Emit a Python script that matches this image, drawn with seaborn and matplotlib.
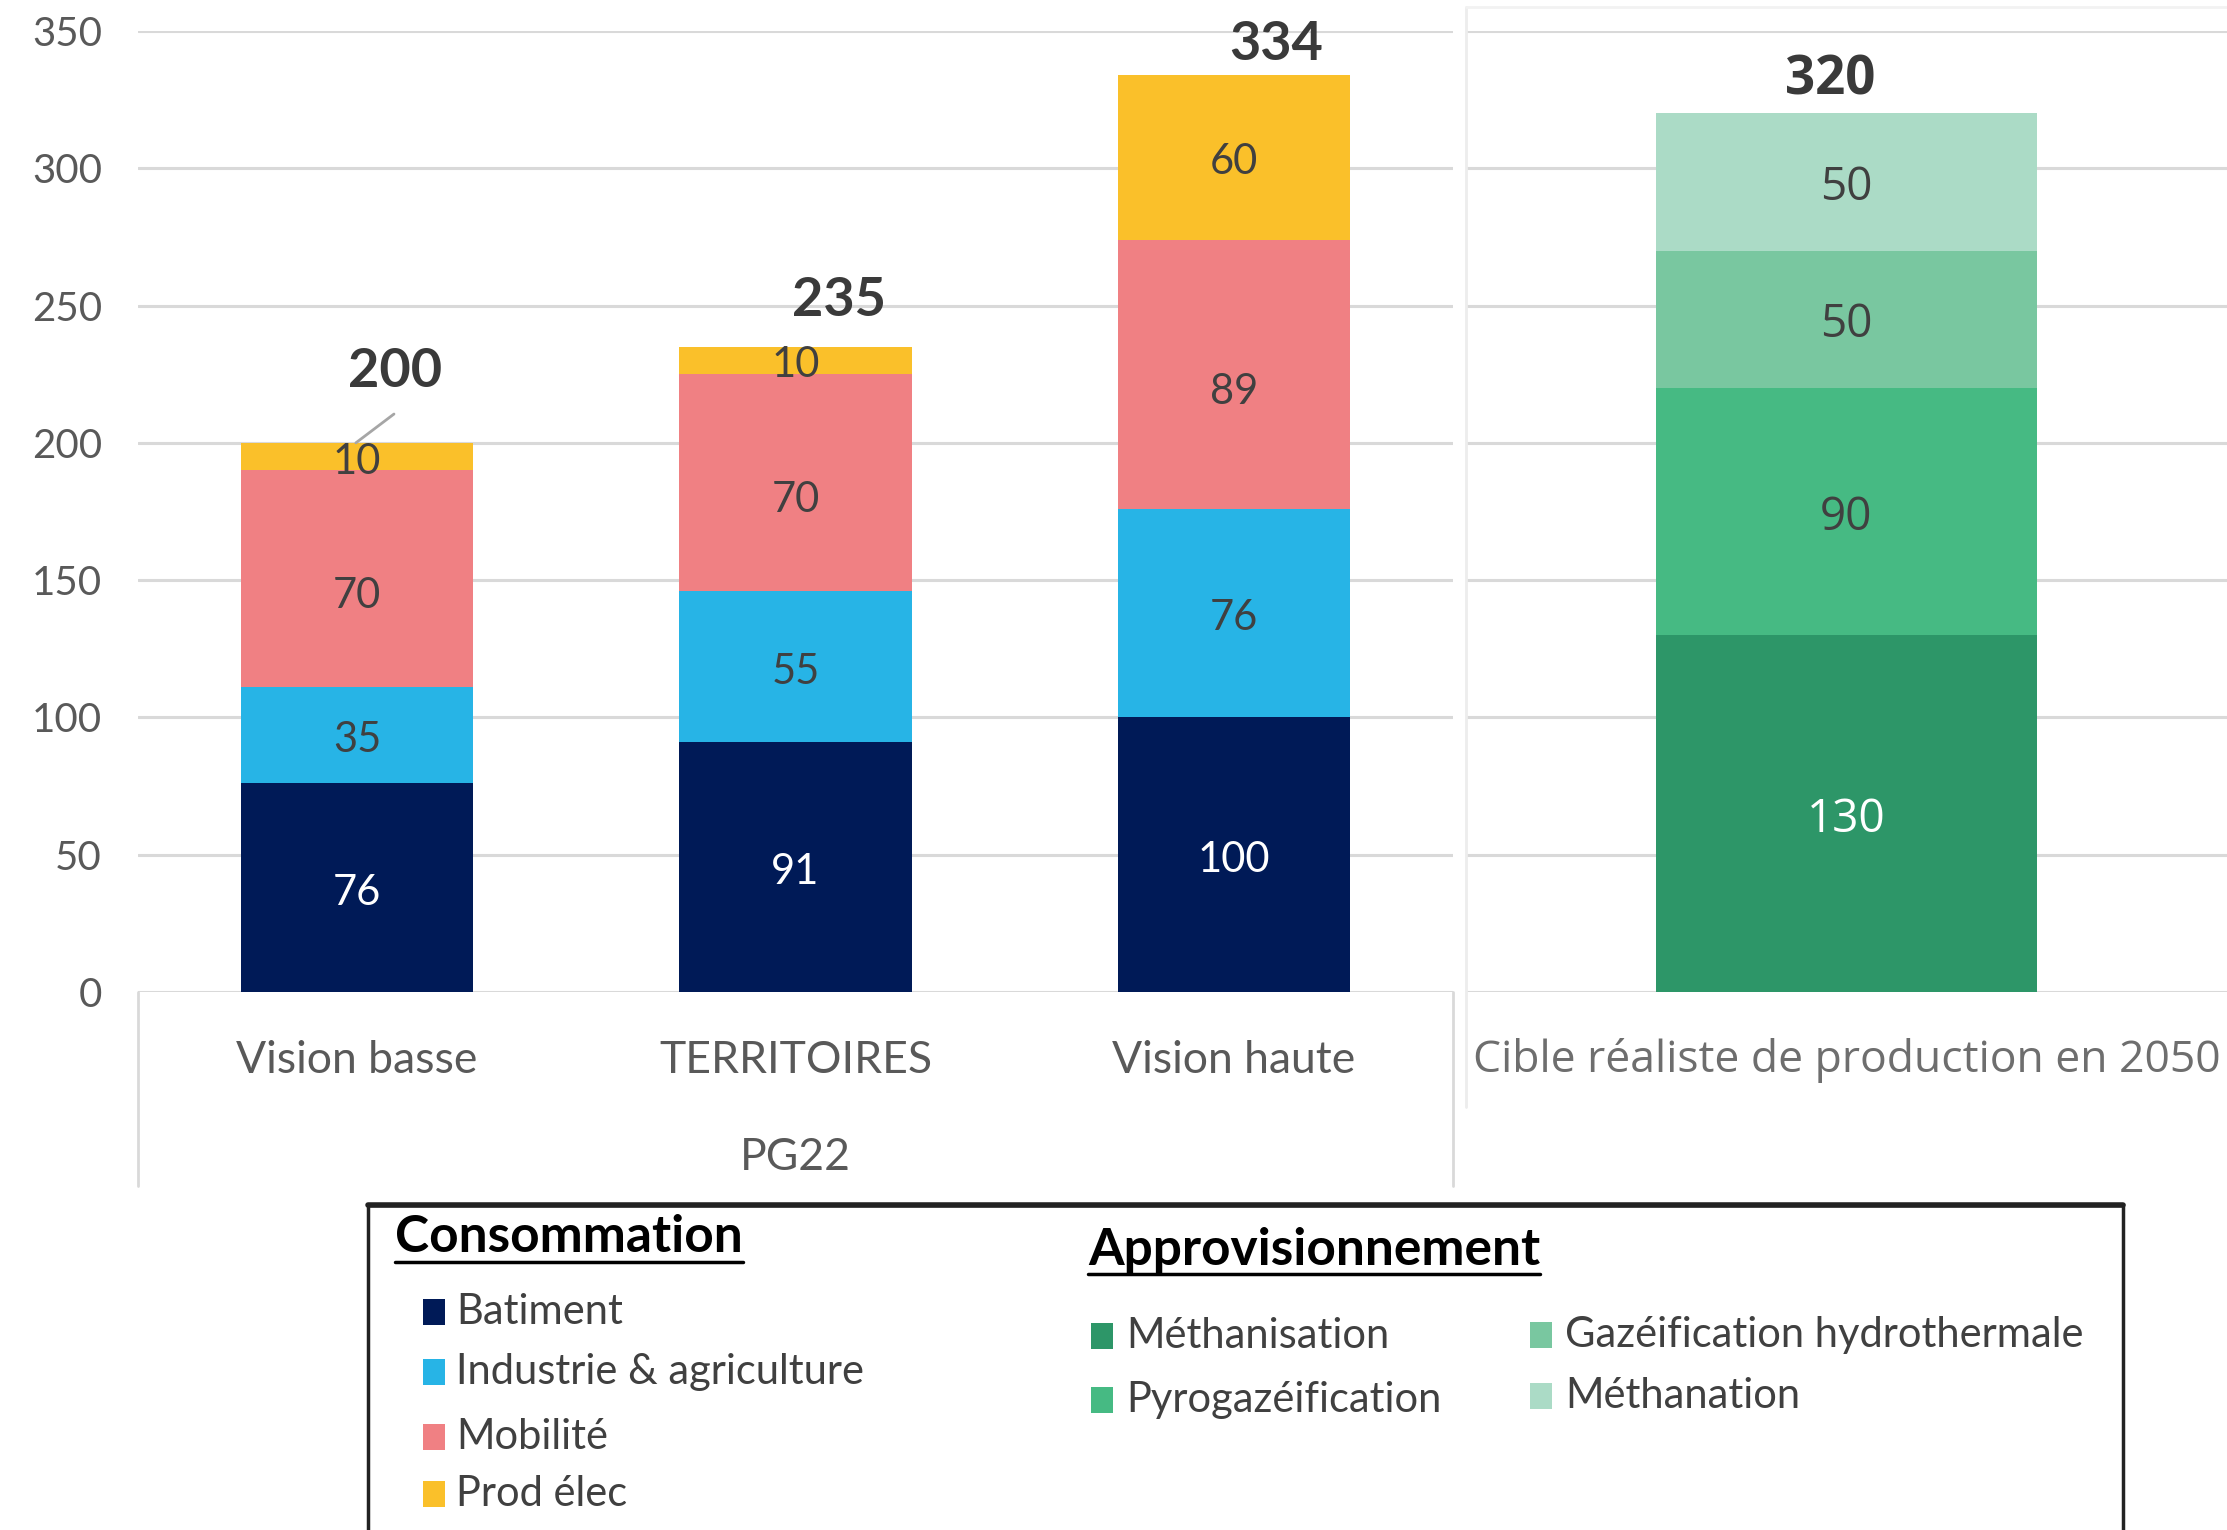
import numpy as np
import matplotlib
matplotlib.use("Agg")
import matplotlib.pyplot as plt
import seaborn as sns
from matplotlib.patches import Rectangle
from matplotlib.lines import Line2D
from matplotlib.transforms import offset_copy

# ---------------- data ----------------
scenarios = ["Vision basse", "TERRITOIRES", "Vision haute"]
group_label = "PG22"
batiment = [76, 91, 100]
industrie = [35, 55, 76]
mobilite = [70, 70, 89]
mobilite_autre = [9, 9, 9]      # unlabeled pink segment on top of Mobilité
prod_elec = [10, 10, 60]
totals_conso = [200, 235, 334]

cible = ["Cible réaliste de production en 2050"]
methanisation = [130]
pyrogazeification = [90]
gazeification_hydro = [50]
methanation = [50]
totals_appro = [320]

yticks = [0, 50, 100, 150, 200, 250, 300, 350]

conso_names = ["Batiment", "Industrie & agriculture", "Mobilité", "Prod élec"]
appro_names = ["Méthanisation", "Pyrogazéification", "Gazéification hydrothermale", "Méthanation"]

# ---------------- style ----------------
sns.set_theme(style="white")
plt.rcParams["font.family"] = ["Lato", "DejaVu Sans"]
OPEN = ["Open Sans", "DejaVu Sans"]

C_BAT, C_IND, C_MOB, C_PROD = "#001A57", "#27B4E6", "#F08083", "#FAC02A"
C_G = ["#2D9668", "#46BA83", "#79C7A0", "#ABDBC6"]
GRID = "#D9D9D9"
TXT = "#404040"
AX_TXT = "#595959"

W, H = 2227, 1530
fig = plt.figure(figsize=(W / 100, H / 100), dpi=100)
fig.patch.set_facecolor("white")

axL = fig.add_axes([138 / W, 1 - 992 / H, (1453 - 138) / W, (992 - 31) / H])
axR = fig.add_axes([1466 / W, 1 - 992 / H, (W - 1466) / W, (992 - 31) / H])

# ---------------- left panel (consommation) ----------------
layersL = [
    (batiment, C_BAT, True, "white"),
    (industrie, C_IND, True, TXT),
    (mobilite, C_MOB, True, TXT),
    (mobilite_autre, C_MOB, False, TXT),
    (prod_elec, C_PROD, True, TXT),
]
cumL = np.cumsum([np.array(v, dtype=float) for v, _, _, _ in layersL], axis=0)
for i in reversed(range(len(layersL))):
    sns.barplot(x=scenarios, y=cumL[i], color=layersL[i][1], width=0.53,
                saturation=1, errorbar=None, linewidth=0, ax=axL)
segL = offset_copy(axL.transData, fig=fig, x=0, y=-5, units="dots")
for i, (vals, _, show, tc) in enumerate(layersL):
    if not show:
        continue
    for j, v in enumerate(vals):
        axL.text(j, cumL[i][j] - v / 2, str(v), ha="center", va="center",
                 fontsize=30, color=tc, zorder=5, transform=segL)

tot_pos = [(0.087, 226), (0.10, 252), (0.097, 345)]
for j, t in enumerate(totals_conso):
    x, y = tot_pos[j]
    axL.text(j + x, y, str(t), ha="center", va="center", fontsize=39,
             fontweight="bold", color="#3A3A3A", clip_on=False, zorder=6)
# leader line for first total
axL.plot([0.084, -0.003], [210.5, 200], color="#A6A6A6", lw=2, zorder=6)

axL.set_xlim(-0.5, 2.5)
axL.set_ylim(0, 350)
axL.set_yticks(yticks)
axL.set_yticklabels([str(t) for t in yticks])
axL.tick_params(axis="y", length=0, labelsize=29, labelcolor=AX_TXT, pad=26)
axL.set_xticks([])
axL.set_xlabel("")
axL.yaxis.grid(True, color=GRID, lw=2.2)
axL.set_axisbelow(True)
for s in axL.spines.values():
    s.set_visible(False)

tr = axL.get_xaxis_transform()
for j, name in enumerate(scenarios):
    axL.text(j, -0.0708, name, transform=tr, ha="center", va="center",
             fontsize=32, color=AX_TXT, clip_on=False)
axL.text(1, -0.172, group_label, transform=tr, ha="center", va="center",
         fontsize=32, color=AX_TXT, clip_on=False)
for xv in (-0.5, 2.5):
    axL.add_line(Line2D([xv, xv], [0, -0.202], transform=tr, color=GRID,
                        lw=2, clip_on=False))

# ---------------- right panel (approvisionnement) ----------------
layersR = [
    (methanisation, C_G[0], "white"),
    (pyrogazeification, C_G[1], TXT),
    (gazeification_hydro, C_G[2], TXT),
    (methanation, C_G[3], TXT),
]
cumR = np.cumsum([np.array(v, dtype=float) for v, _, _ in layersR], axis=0)
for i in reversed(range(len(layersR))):
    sns.barplot(x=cible, y=cumR[i], color=layersR[i][1], width=0.5,
                saturation=1, errorbar=None, linewidth=0, ax=axR)
segR = offset_copy(axR.transData, fig=fig, x=0, y=-6, units="dots")
for i, (vals, _, tc) in enumerate(layersR):
    for j, v in enumerate(vals):
        axR.text(j, cumR[i][j] - v / 2, str(v), ha="center", va="center",
                 fontsize=33, color=tc, family=OPEN, zorder=5, transform=segR)
for j, t in enumerate(totals_appro):
    axR.text(j - 0.022, 332, str(t), ha="center", va="center", fontsize=38,
             fontweight="bold", color="#3A3A3A", family=OPEN, zorder=6)

axR.set_xlim(-0.5, 0.5)
axR.set_ylim(0, 350)
axR.set_yticks(yticks)
axR.set_yticklabels([])
axR.tick_params(axis="y", length=0)
axR.set_xticks([])
axR.set_xlabel("")
axR.yaxis.grid(True, color=GRID, lw=2.2)
axR.set_axisbelow(True)
for s in axR.spines.values():
    s.set_visible(False)
trR = axR.get_xaxis_transform()
axR.text(0, -0.0708, cible[0], transform=trR, ha="center", va="center",
         fontsize=32, color="#6E6E6E", family=OPEN, clip_on=False)
axR.add_line(Line2D([-0.5, -0.5], [1.025, -0.12], transform=trR, color="#EDEDED",
                    lw=2, clip_on=False))
axR.add_line(Line2D([-0.5, 0.5], [1.025, 1.025], transform=trR, color="#F2F2F2",
                    lw=2, clip_on=False))

# ---------------- legend box ----------------
fig.patches.append(Rectangle((368 / W, -0.05), (2123 - 368) / W, 0.05 + 1 - 1205 / H,
                             transform=fig.transFigure, facecolor="white",
                             edgecolor="#222222", lw=2.5, zorder=1))
fig.lines.append(Line2D([368 / W, 2123 / W], [1 - 1205 / H] * 2, transform=fig.transFigure,
                        color="#222222", lw=4, zorder=2))

t1 = fig.text(395 / W, 1 - 1238 / H, "Consommation", ha="left", va="center",
              fontsize=37, fontweight="bold", color="black", zorder=3)
t2 = fig.text(1088 / W, 1 - 1250 / H, "Approvisionnement", ha="left", va="center",
              fontsize=37, fontweight="bold", color="black", zorder=3)

fig.canvas.draw()
rend = fig.canvas.get_renderer()
for t, uy in ((t1, 1262), (t2, 1274)):
    bb = t.get_window_extent(rend)
    fig.lines.append(Line2D([bb.x0 / W, bb.x1 / W], [1 - uy / H] * 2,
                            transform=fig.transFigure, color="black", lw=2.5, zorder=3))

conso_colors = [C_BAT, C_IND, C_MOB, C_PROD]
conso_y = [1312, 1372, 1437, 1494]
for name, col, yy in zip(conso_names, conso_colors, conso_y):
    fig.patches.append(Rectangle((423 / W, 1 - (yy + 13) / H), 22 / W, 26 / H,
                                 transform=fig.transFigure, facecolor=col,
                                 edgecolor="none", zorder=3))
    fig.text(456 / W, 1 - yy / H, name, ha="left", va="center", fontsize=30,
             color=TXT, zorder=3)

appro_pos = [(1091, 1336), (1091, 1400), (1530, 1335), (1530, 1396)]
for name, col, (xx, yy) in zip(appro_names, C_G, appro_pos):
    fig.patches.append(Rectangle((xx / W, 1 - (yy + 13) / H), 22 / W, 26 / H,
                                 transform=fig.transFigure, facecolor=col,
                                 edgecolor="none", zorder=3))
    fig.text((xx + 35) / W, 1 - yy / H, name, ha="left", va="center", fontsize=30,
             color=TXT, zorder=3)

fig.savefig("out.png", dpi=100, facecolor="white")
